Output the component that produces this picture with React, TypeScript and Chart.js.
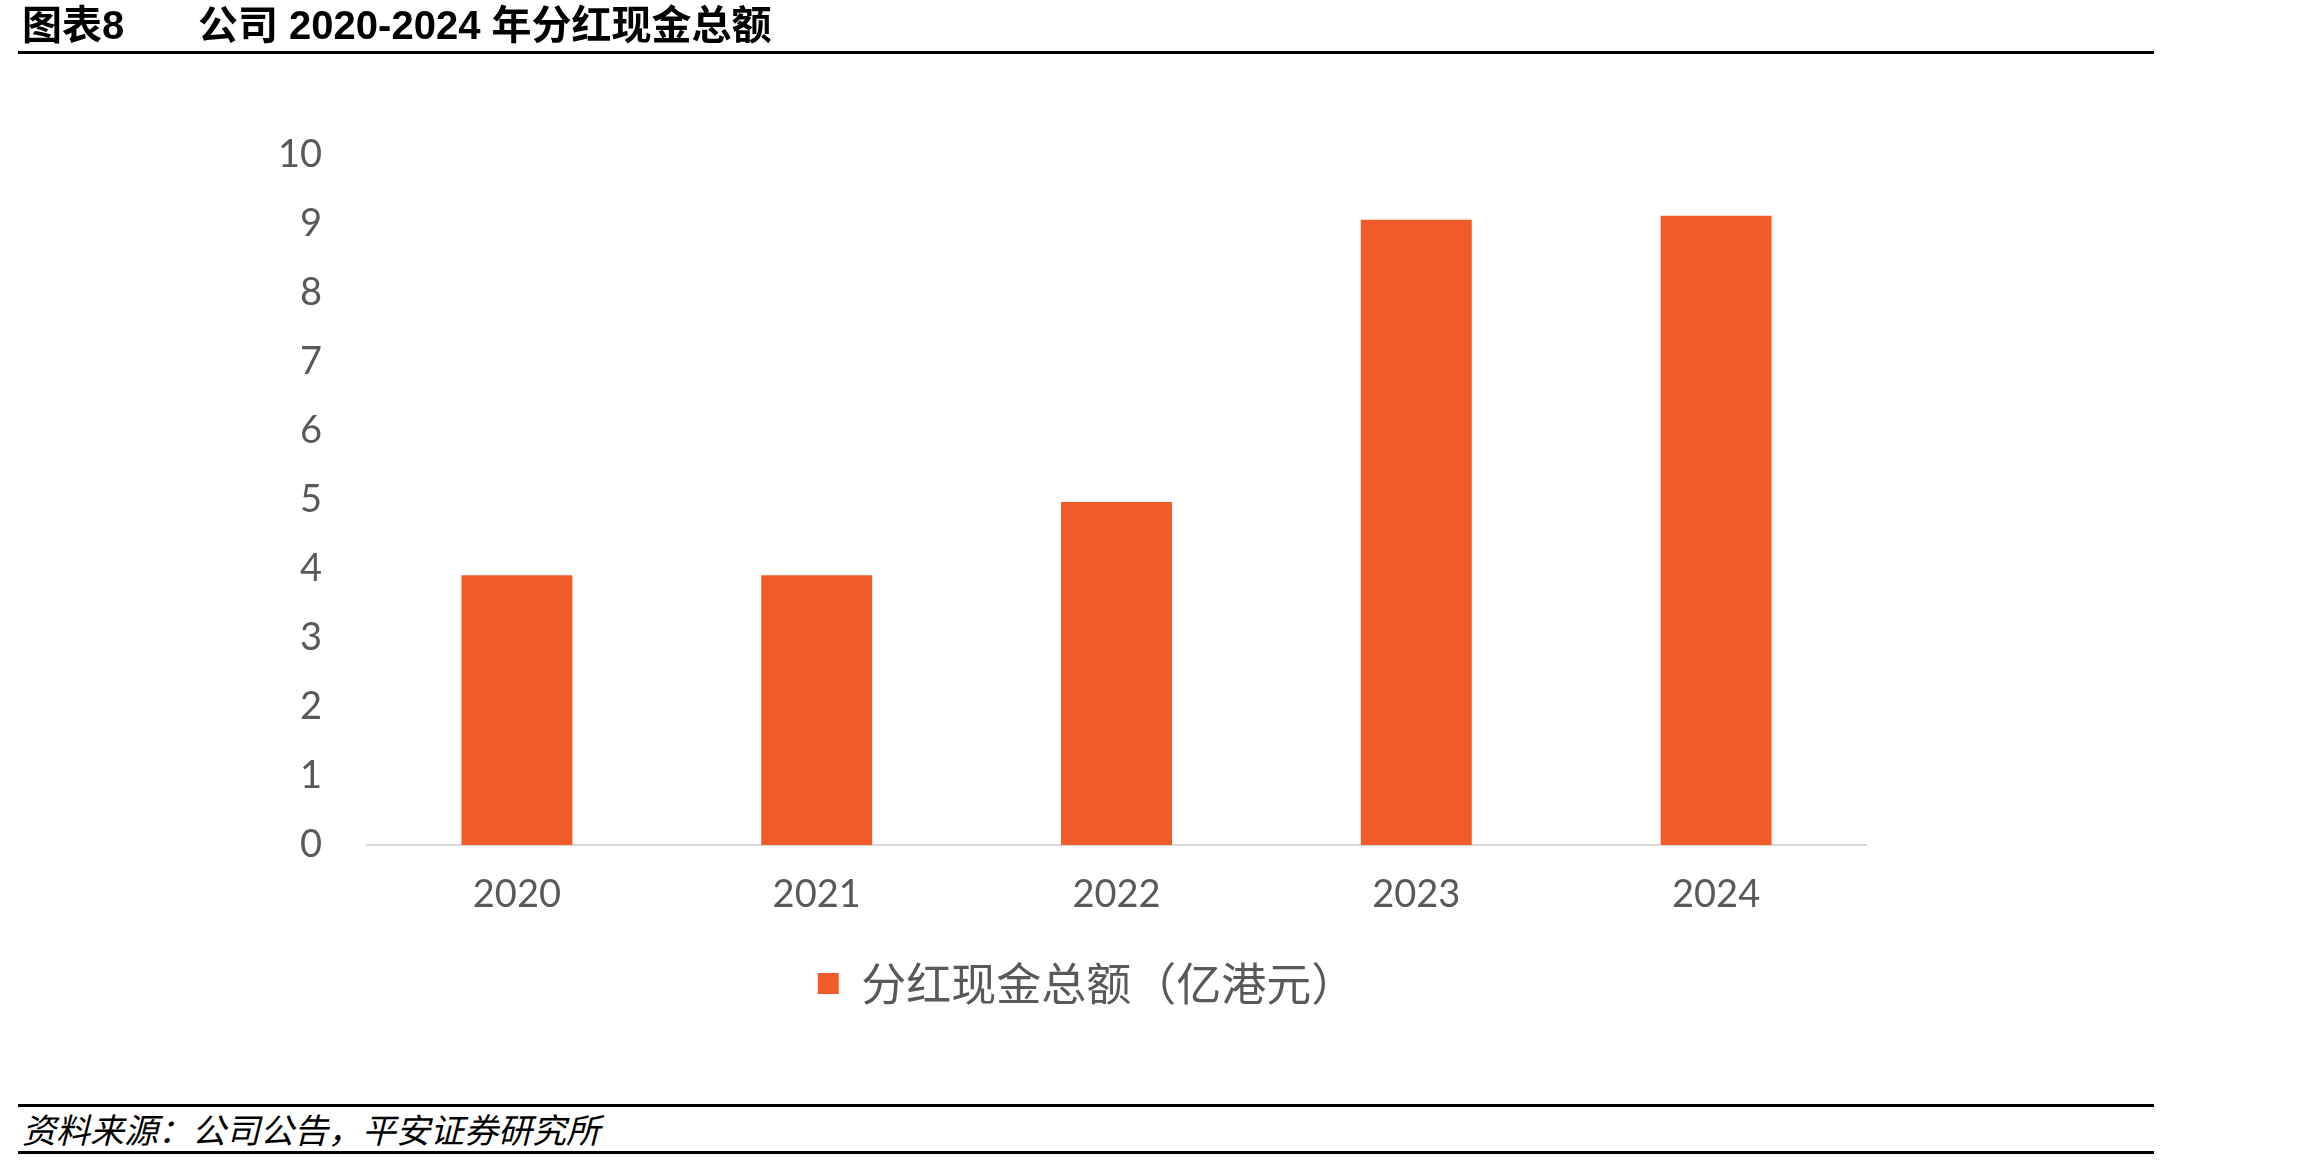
import React, { useEffect, useRef } from "react";
import { Chart, registerables } from "chart.js";

Chart.register(...registerables);

const categories: string[] = ["2020", "2021", "2022", "2023", "2024"];
const dividendValues: number[] = [3.91, 3.91, 4.97, 9.06, 9.12];
const seriesLabel = "分红现金总额（亿港元）";
const yTickMin = 0;
const yTickMax = 10;
const yTickStep = 1;

const titleLeft = "图表8";
const titleMain = "公司 2020-2024 年分红现金总额";
const sourceText = "资料来源：公司公告，平安证券研究所";

const BAR_COLOR = "#F15A29";
const TICK_COLOR = "#595959";

export default function App() {
  const canvasRef = useRef<HTMLCanvasElement | null>(null);

  useEffect(() => {
    const canvas = canvasRef.current;
    if (!canvas) return;
    const chart = new Chart(canvas, {
      type: "bar",
      data: {
        labels: categories,
        datasets: [
          {
            label: seriesLabel,
            data: dividendValues,
            backgroundColor: BAR_COLOR,
            borderWidth: 0,
            barPercentage: 0.37,
            categoryPercentage: 1,
            yAxisID: "y",
          },
        ],
      },
      options: {
        responsive: false,
        animation: false,
        devicePixelRatio: 1,
        layout: { padding: { top: 155, left: 0, right: 0, bottom: 0 } },
        plugins: {
          legend: {
            display: true,
            position: "bottom",
            labels: {
              boxWidth: 21,
              boxHeight: 21,
              padding: 20,
              color: TICK_COLOR,
              font: { family: "'Noto Sans CJK SC', sans-serif", size: 45 },
            },
          },
          tooltip: { enabled: false },
          title: { display: false },
        },
        scales: {
          x: {
            grid: { display: false, drawTicks: false },
            border: { display: true, color: "#D9D9D9", width: 2 },
            ticks: {
              color: TICK_COLOR,
              padding: 27,
              font: { family: "Lato, 'Open Sans', sans-serif", size: 38 },
              maxRotation: 0,
            },
            afterFit: (scale: any) => {
              scale.height = 96;
            },
          },
          y: {
            min: yTickMin,
            max: yTickMax,
            grid: { display: false, drawTicks: false },
            border: { display: false },
            ticks: {
              stepSize: yTickStep,
              color: TICK_COLOR,
              padding: 45,
              font: { family: "Lato, 'Open Sans', sans-serif", size: 38 },
            },
            afterFit: (scale: any) => {
              scale.width = 367;
            },
          },
          yRight: {
            type: "linear",
            position: "right",
            display: true,
            min: 0,
            max: 1,
            grid: { display: false, drawTicks: false },
            border: { display: false },
            ticks: { display: false },
            afterFit: (scale: any) => {
              scale.width = 308;
            },
          },
        },
      },
    });
    return () => chart.destroy();
  }, []);

  const cjkBold = "'Liberation Sans', Arial, 'Noto Sans CJK SC', sans-serif";

  return (
    <div
      style={{
        position: "absolute",
        left: 0,
        top: 0,
        width: 2302,
        height: 1162,
        background: "#fff",
        overflow: "hidden",
      }}
    >
      <canvas
        ref={canvasRef}
        width={2174}
        height={1016}
        style={{ position: "absolute", left: 0, top: 0, width: 2174, height: 1016 }}
      />
      <div
        style={{
          position: "absolute",
          left: 22,
          top: 1,
          fontFamily: cjkBold,
          fontWeight: 700,
          fontSize: 40,
          lineHeight: "48px",
          color: "#000",
          whiteSpace: "nowrap",
        }}
      >
        {titleLeft}
      </div>
      <div
        style={{
          position: "absolute",
          left: 198,
          top: 1,
          fontFamily: cjkBold,
          fontWeight: 700,
          fontSize: 40,
          lineHeight: "48px",
          color: "#000",
          whiteSpace: "nowrap",
        }}
      >
        {titleMain}
      </div>
      <div
        style={{
          position: "absolute",
          left: 18,
          top: 51,
          width: 2136,
          height: 3,
          background: "#000",
        }}
      />
      <div
        style={{
          position: "absolute",
          left: 18,
          top: 1104,
          width: 2136,
          height: 3,
          background: "#000",
        }}
      />
      <div
        style={{
          position: "absolute",
          left: 22,
          top: 1108,
          fontFamily: "'Noto Sans CJK SC', sans-serif",
          fontStyle: "italic",
          fontSize: 34,
          lineHeight: "42px",
          color: "#000",
          whiteSpace: "nowrap",
        }}
      >
        {sourceText}
      </div>
      <div
        style={{
          position: "absolute",
          left: 18,
          top: 1151,
          width: 2136,
          height: 3,
          background: "#000",
        }}
      />
    </div>
  );
}
